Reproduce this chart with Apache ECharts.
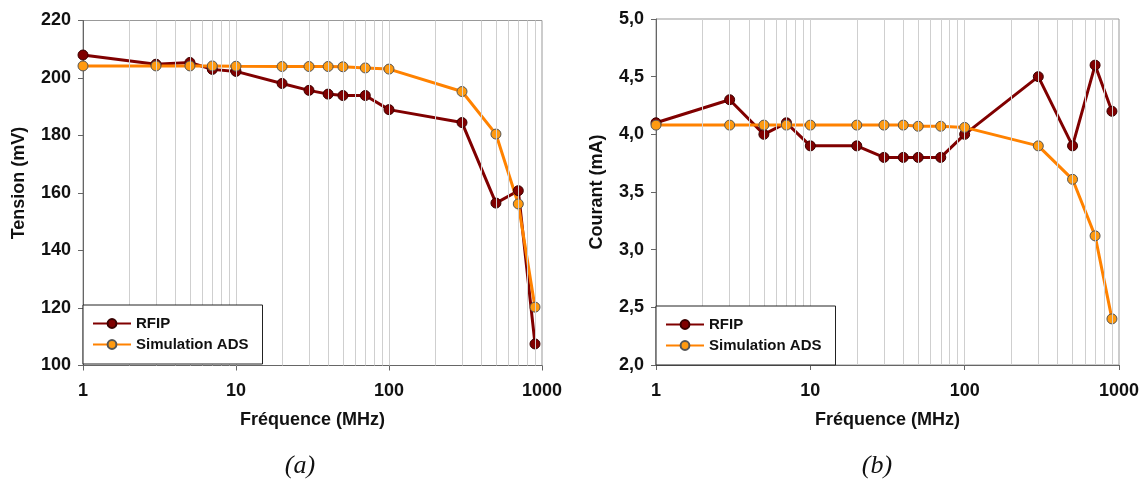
<!DOCTYPE html>
<html>
<head>
<meta charset="utf-8">
<script src="https://cdn.jsdelivr.net/npm/echarts@6/dist/echarts.min.js"></script>
<style>
  html, body { margin: 0; padding: 0; background: #fff; }
  #chart { width: 1145px; height: 483px; }
</style>
</head>
<body>
<div id="chart"></div>
<script>
// Measurement frequencies (MHz)
const frequencies = [1, 3, 5, 7, 10, 20, 30, 40, 50, 70, 100, 300, 500, 700, 900];

// (a) Output voltage (mV)
const tensionRFIP = [208, 204.8, 205.4, 203, 202.3, 198.1, 195.7, 194.4, 193.9, 193.9, 189, 184.5, 156.5, 160.8, 107.5];
const tensionADS  = [204.2, 204.2, 204.2, 204.2, 204.1, 204, 204, 204, 203.9, 203.5, 203.1, 195.3, 180.5, 156.2, 120.3];

// (b) Current (mA)
const courantRFIP = [4.1, 4.3, 4.0, 4.1, 3.9, 3.9, 3.8, 3.8, 3.8, 3.8, 4.0, 4.5, 3.9, 4.6, 4.2];
const courantADS  = [4.08, 4.08, 4.08, 4.08, 4.08, 4.08, 4.08, 4.08, 4.07, 4.07, 4.06, 3.9, 3.61, 3.12, 2.4];

// Vertical log-decade grid positions
const logGridLines = [2, 3, 4, 5, 6, 7, 8, 9, 10, 20, 30, 40, 50, 60, 70, 80, 90, 100,
                      200, 300, 400, 500, 600, 700, 800, 900];

const seriesNames = ['RFIP', 'Simulation ADS'];
const captions = ['(a)', '(b)'];

const pair = (xs, ys) => xs.map((x, i) => [x, ys[i]]);

const RED = '#800000';
const ORANGE = '#FF8200';
const TEXT = '#111';
const FONT = '"Liberation Sans", Arial, sans-serif';
const SERIF = '"Liberation Serif", "Times New Roman", serif';

function xAxisCfg(gridIndex) {
  return {
    type: 'log', logBase: 10, gridIndex, min: 1, max: 1000,
    name: 'Fréquence (MHz)', nameLocation: 'middle', nameGap: 46,
    nameTextStyle: { fontFamily: FONT, fontWeight: 'bold', fontSize: 18, color: TEXT },
    axisLine: { show: true, lineStyle: { color: '#666', width: 1 } },
    axisTick: { show: true, length: 5, lineStyle: { color: '#666' } },
    axisLabel: { fontFamily: FONT, fontWeight: 'bold', fontSize: 18, color: TEXT, margin: 17,
                 formatter: v => String(Math.round(v)) },
    splitLine: { show: false },
    minorTick: { show: false }
  };
}

function yAxisCfg(gridIndex, name, min, max, interval, fmt, nameGap, namePad) {
  return {
    type: 'value', gridIndex, min, max, interval,
    name, nameLocation: 'middle', nameGap,
    nameTextStyle: { fontFamily: FONT, fontWeight: 'bold', fontSize: 18, color: TEXT, padding: namePad },
    axisLine: { show: true, lineStyle: { color: '#666', width: 1 } },
    axisTick: { show: true, length: 5, lineStyle: { color: '#666' } },
    axisLabel: { fontFamily: FONT, fontWeight: 'bold', fontSize: 18, color: TEXT, margin: 12, formatter: fmt },
    splitLine: { show: false }
  };
}

function gridLinesSeries(idx) {
  return {
    type: 'line', xAxisIndex: idx, yAxisIndex: idx, data: [], silent: true, z: 1,
    markLine: {
      silent: true, symbol: 'none', animation: false,
      label: { show: false },
      lineStyle: { color: '#cfcfcf', width: 1, type: 'solid' },
      data: logGridLines.map(v => ({ xAxis: v }))
    }
  };
}

function dataSeries(idx, name, data, color, fill, border) {
  return {
    type: 'line', name, xAxisIndex: idx, yAxisIndex: idx, data, z: 3,
    symbol: 'circle', symbolSize: 10,
    lineStyle: { color, width: 3 },
    itemStyle: { color: fill, borderColor: border, borderWidth: 1 },
    animation: false
  };
}

function legendCfg(left, top) {
  return {
    data: seriesNames, orient: 'vertical', left, top,
    backgroundColor: '#fff', borderColor: '#222', borderWidth: 1,
    padding: [11, 14, 12, 9], itemGap: 6, itemWidth: 38, itemHeight: 11,
    textStyle: { fontFamily: FONT, fontWeight: 'bold', fontSize: 15, color: TEXT },
    selectedMode: false, z: 10
  };
}

function captionCfg(text, x) {
  return {
    type: 'text', x, y: 466, z: 10,
    style: { text, fontFamily: SERIF, fontStyle: 'italic', fontSize: 26, fill: '#111',
             align: 'center', verticalAlign: 'middle' }
  };
}

const chart = echarts.init(document.getElementById('chart'), null, { renderer: 'canvas' });

chart.setOption({
  backgroundColor: '#fff',
  animation: false,
  grid: [
    { left: 83, width: 459, top: 20.5, height: 345, show: true, borderColor: '#999', borderWidth: 1, backgroundColor: 'transparent' },
    { left: 656, width: 463, top: 19, height: 346, show: true, borderColor: '#999', borderWidth: 1, backgroundColor: 'transparent' }
  ],
  xAxis: [xAxisCfg(0), xAxisCfg(1)],
  yAxis: [
    yAxisCfg(0, 'Tension (mV)', 100, 220, 20, v => String(v), 55, [0, 0, 0, 20]),
    yAxisCfg(1, 'Courant (mA)', 2, 5, 0.5, v => v.toFixed(1).replace('.', ','), 50, 0)
  ],
  legend: [legendCfg(83, 305), legendCfg(656, 306)],
  series: [
    gridLinesSeries(0),
    gridLinesSeries(1),
    dataSeries(0, seriesNames[0], pair(frequencies, tensionRFIP), RED, RED, '#3a0000'),
    dataSeries(0, seriesNames[1], pair(frequencies, tensionADS), ORANGE, '#FF9A10', '#555'),
    dataSeries(1, seriesNames[0], pair(frequencies, courantRFIP), RED, RED, '#3a0000'),
    dataSeries(1, seriesNames[1], pair(frequencies, courantADS), ORANGE, '#FF9A10', '#555')
  ],
  graphic: [captionCfg(captions[0], 300), captionCfg(captions[1], 877)]
});
</script>
</body>
</html>
